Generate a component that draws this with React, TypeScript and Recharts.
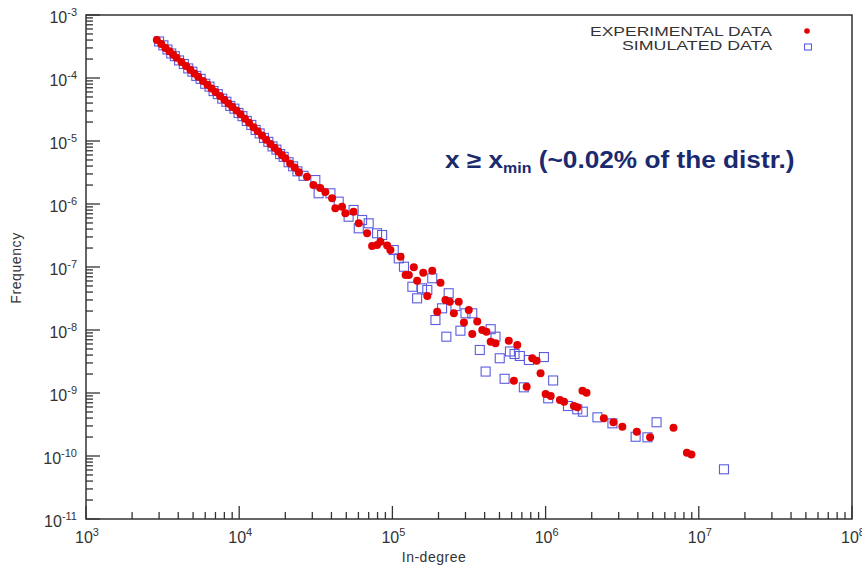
import React from 'react';
import { ScatterChart, Scatter, XAxis, YAxis, ReferenceArea } from 'recharts';

// ---- data ----
const experimentalIndegree = [
  2900, 3100, 3300, 3500, 3700, 3900, 4200, 4500, 4800, 5100, 5400, 5800, 6200, 6600, 7000, 7500, 8000, 8500,
  9000, 9600, 10200, 10900, 11600, 12400, 13200, 14100, 15000, 16000, 17000, 18000, 19000, 20000, 21500, 23000, 24500,
  2.77e4, 3.05e4, 3.38e4, 3.65e4, 4.04e4, 4.24e4, 4.69e4, 4.93e4, 5.58e4, 6.03e4, 6.84e4, 7.37e4, 7.94e4, 8.35e4,
  9.24e4, 9.7e4, 1.13e5, 1.22e5, 1.28e5, 1.38e5, 1.45e5, 1.59e5, 1.69e5, 1.82e5, 2.06e5, 2.22e5, 2.37e5, 2.71e5,
  1.96e5, 2.52e5, 3.15e5, 2.93e5, 3.58e5, 3.86e5, 4.11e5, 3.32e5, 4.38e5, 4.71e5, 5.75e5, 6.53e5, 8.18e5, 8.73e5,
  9.27e5, 6.21e5, 7.52e5, 1.0e6, 1.08e6, 1.24e6, 1.32e6, 1.53e6, 1.61e6, 1.74e6, 1.85e6, 2.4e6, 2.77e6, 3.17e6,
  3.94e6, 4.81e6, 6.84e6, 8.36e6, 8.95e6,
];
const experimentalFrequency = [
  4.0e-4, 3.45e-4, 3.0e-4, 2.65e-4, 2.36e-4, 2.1e-4, 1.8e-4, 1.55e-4, 1.35e-4, 1.18e-4, 1.05e-4, 9.0e-5, 7.8e-5,
  6.8e-5, 6.0e-5, 5.2e-5, 4.5e-5, 3.95e-5, 3.5e-5, 3.05e-5, 2.65e-5, 2.26e-5, 1.95e-5, 1.66e-5, 1.43e-5, 1.22e-5,
  1.05e-5, 9.0e-6, 7.8e-6, 6.8e-6, 6.0e-6, 5.3e-6, 4.4e-6, 3.8e-6, 3.2e-6,
  2.71e-6, 2.0e-6, 1.8e-6, 1.55e-6, 1.23e-6, 8.55e-7, 9.06e-7, 7.11e-7, 7.55e-7, 4.94e-7, 3.43e-7, 2.15e-7, 2.23e-7,
  2.52e-7, 2.2e-7, 1.86e-7, 1.46e-7, 7.46e-8, 7.46e-8, 9.9e-8, 6.07e-8, 8.13e-8, 3.47e-8, 8.73e-8, 5.64e-8, 2.99e-8,
  2.81e-8, 2.81e-8, 1.95e-8, 1.84e-8, 2.07e-8, 1.31e-8, 1.36e-8, 1.0e-8, 9.4e-9, 8.65e-9, 6.52e-9, 6.15e-9, 6.76e-9,
  5.78e-9, 3.56e-9, 3.26e-9, 2.06e-9, 1.57e-9, 1.26e-9, 9.64e-10, 8.95e-10, 7.74e-10, 7.28e-10, 6.22e-10, 5.93e-10,
  1.09e-9, 1.01e-9, 3.96e-10, 3.43e-10, 2.92e-10, 2.43e-10, 1.98e-10, 2.81e-10, 1.13e-10, 1.06e-10,
];
const simulatedIndegree = [
  3000, 3200, 3400, 3600, 3800, 4050, 4350, 4650, 4950, 5250, 5600, 6000, 6400, 6800, 7250, 7750, 8250, 8750, 9300,
  9900, 10500, 11200, 12000, 12800, 13600, 14500, 15500, 16500, 17500, 18500, 19500, 21000, 22500, 24000,
  2.63e4, 3.14e4, 3.3e4, 3.94e4, 4.46e4, 5.18e4, 5.58e4, 6.34e4, 7.0e4, 6.03e4, 7.94e4, 8.57e4, 1.02e5, 1.1e5,
  1.19e5, 1.35e5, 1.45e5, 1.56e5, 1.69e5, 1.82e5, 2.33e5, 2.11e5, 1.91e5, 2.58e5, 3.0e5, 3.32e5, 2.78e5, 2.25e5,
  4.38e5, 4.71e5, 3.72e5, 5.02e5, 5.85e5, 6.27e5, 6.79e5, 7.78e5, 9.75e5, 4.06e5, 5.4e5, 7.21e5, 1.12e6, 1.04e6,
  1.4e6, 1.61e6, 1.75e6, 2.18e6, 2.73e6, 3.87e6, 4.62e6, 5.3e6, 1.46e7,
];
const simulatedFrequency = [
  3.8e-4, 3.3e-4, 2.83e-4, 2.45e-4, 2.22e-4, 1.9e-4, 1.67e-4, 1.42e-4, 1.26e-4, 1.08e-4, 9.7e-5, 8.1e-5, 7.3e-5,
  6.2e-5, 5.55e-5, 4.7e-5, 4.2e-5, 3.6e-5, 3.26e-5, 2.78e-5, 2.48e-5, 2.08e-5, 1.8e-5, 1.5e-5, 1.32e-5, 1.12e-5,
  9.7e-6, 8.2e-6, 7.3e-6, 6.2e-6, 5.6e-6, 4.6e-6, 3.97e-6, 3.3e-6,
  2.8e-6, 2.4e-6, 1.48e-6, 1.48e-6, 1.09e-6, 6.28e-7, 8.04e-7, 5.57e-7, 4.94e-7, 4.11e-7, 3.43e-7, 3.22e-7, 1.86e-7,
  1.37e-7, 1.01e-7, 4.86e-8, 3.18e-8, 4.59e-8, 4.32e-8, 6.62e-8, 3.83e-8, 2.21e-8, 1.44e-8, 2.4e-8, 1.84e-8, 1.84e-8,
  9.75e-9, 7.83e-9, 1.03e-8, 7.83e-9, 4.82e-9, 3.56e-9, 4.56e-9, 4.16e-9, 3.87e-9, 3.34e-9, 3.72e-9, 2.19e-9, 1.68e-9,
  1.23e-9, 1.58e-9, 8.24e-10, 6.22e-10, 5.51e-10, 5.05e-10, 4.11e-10, 3.3e-10, 2.02e-10, 1.98e-10, 3.43e-10, 6.15e-11,
];

const xDecades = [1e3, 1e4, 1e5, 1e6, 1e7, 1e8];
const yDecades = [1e-11, 1e-10, 1e-9, 1e-8, 1e-7, 1e-6, 1e-5, 1e-4, 1e-3];
const minorFactors = [2, 3, 4, 5, 6, 7, 8, 9];

const seriesNames = ['EXPERIMENTAL DATA', 'SIMULATED DATA'];
const xTitle = 'In-degree';
const yTitle = 'Frequency';

// ---- build tables ----
const experimental = experimentalIndegree.map((x, i) => ({ x, y: experimentalFrequency[i] }));
const simulated = simulatedIndegree.map((x, i) => ({ x, y: simulatedFrequency[i] }));

const withMinors = (decades: number[]) =>
  decades.flatMap((d, i) => (i < decades.length - 1 ? [d, ...minorFactors.map((f) => f * d)] : [d]));
const xTicks = withMinors(xDecades);
const yTicks = withMinors(yDecades);

const FONT = '"Liberation Sans", Arial, Helvetica, sans-serif';
const AXIS = '#333333';
const RED = '#e40000';
const BLUE = '#5c5ce0';

const exponentOf = (v: number) => Math.round(Math.log10(v));
const isDecade = (v: number) => Math.abs(Math.log10(v) - Math.round(Math.log10(v))) < 1e-6;

const XTick = (props: any) => {
  const { x, y, payload } = props;
  const v = payload.value;
  const major = isDecade(v);
  return (
    <g>
      <line x1={x} y1={y} x2={x} y2={y - (major ? 13 : 7)} stroke={AXIS} strokeWidth={1.3} />
      {major && (
        <text x={x + 1} y={y + 24} textAnchor="middle" fill={AXIS} fontFamily={FONT}>
          <tspan fontSize={16}>10</tspan>
          <tspan fontSize={11} dy={-7}>{exponentOf(v)}</tspan>
        </text>
      )}
    </g>
  );
};

const YTick = (props: any) => {
  const { x, y, payload } = props;
  const v = payload.value;
  const major = isDecade(v);
  return (
    <g>
      <line x1={x} y1={y} x2={x + (major ? 14 : 7)} y2={y} stroke={AXIS} strokeWidth={1.3} />
      {major && (
        <text x={x - 9} y={y + 8} textAnchor="end" fill={AXIS} fontFamily={FONT}>
          <tspan fontSize={16}>10</tspan>
          <tspan fontSize={11} dy={-7}>{exponentOf(v)}</tspan>
        </text>
      )}
    </g>
  );
};

const RedDot = (props: any) => <circle cx={props.cx} cy={props.cy} r={4} fill={RED} />;
const BlueSquare = (props: any) => (
  <rect x={props.cx - 4.5} y={props.cy - 4.5} width={9} height={9} fill="none" stroke={BLUE} strokeWidth={1.1} />
);

export default function App() {
  return (
    <div style={{ position: 'absolute', left: 0, top: 0, width: 862, height: 568, background: '#fff' }}>
      <ScatterChart width={862} height={568} margin={{ top: 15, right: 10, bottom: 0, left: 0 }}>
        <XAxis
          type="number"
          dataKey="x"
          scale="log"
          domain={[1e3, 1e8]}
          allowDataOverflow
          ticks={xTicks}
          interval={0}
          tick={<XTick />}
          tickLine={false}
          axisLine={false}
          tickSize={0}
          tickMargin={0}
          height={49}
        />
        <YAxis
          type="number"
          dataKey="y"
          scale="log"
          domain={[1e-11, 1e-3]}
          allowDataOverflow
          ticks={yTicks}
          interval={0}
          tick={<YTick />}
          tickLine={false}
          axisLine={false}
          tickSize={0}
          tickMargin={0}
          width={86}
        />
        <ReferenceArea x1={1e3} x2={1e8} y1={1e-11} y2={1e-3} fill="none" fillOpacity={0} stroke={AXIS} strokeWidth={1.5} />
        <Scatter name={seriesNames[1]} data={simulated} shape={<BlueSquare />} isAnimationActive={false} />
        <Scatter name={seriesNames[0]} data={experimental} shape={<RedDot />} isAnimationActive={false} />
      </ScatterChart>
      <svg
        width={862}
        height={568}
        style={{ position: 'absolute', left: 0, top: 0, pointerEvents: 'none' }}
        fontFamily={FONT}
      >
        {/* legend */}
        <text x={772} y={35.5} textAnchor="end" fontSize={13.5} fill={AXIS} textLength={182} lengthAdjust="spacingAndGlyphs">
          {seriesNames[0]}
        </text>
        <text x={772} y={49.5} textAnchor="end" fontSize={13.5} fill={AXIS} textLength={150} lengthAdjust="spacingAndGlyphs">
          {seriesNames[1]}
        </text>
        <circle cx={807} cy={31} r={2.8} fill={RED} />
        <rect x={804.5} y={44} width={7} height={6} fill="none" stroke={BLUE} strokeWidth={1.1} />
        {/* annotation */}
        <g transform="translate(445,168) scale(1.14,1)">
          <text x={0} y={0} fontSize={23} fontWeight="bold" fill="#1b2a6e">
            x ≥ x<tspan fontSize={14} dy={5}>min</tspan>
            <tspan dy={-5}> (~0.02% of the distr.)</tspan>
          </text>
        </g>
        {/* axis titles */}
        <text x={434} y={562} textAnchor="middle" fontSize={14} fill={AXIS} letterSpacing={0.5}>
          {xTitle}
        </text>
        <text
          x={0}
          y={0}
          transform="translate(21,268) rotate(-90)"
          textAnchor="middle"
          fontSize={14}
          fill={AXIS}
          letterSpacing={0.6}
        >
          {yTitle}
        </text>
      </svg>
    </div>
  );
}
